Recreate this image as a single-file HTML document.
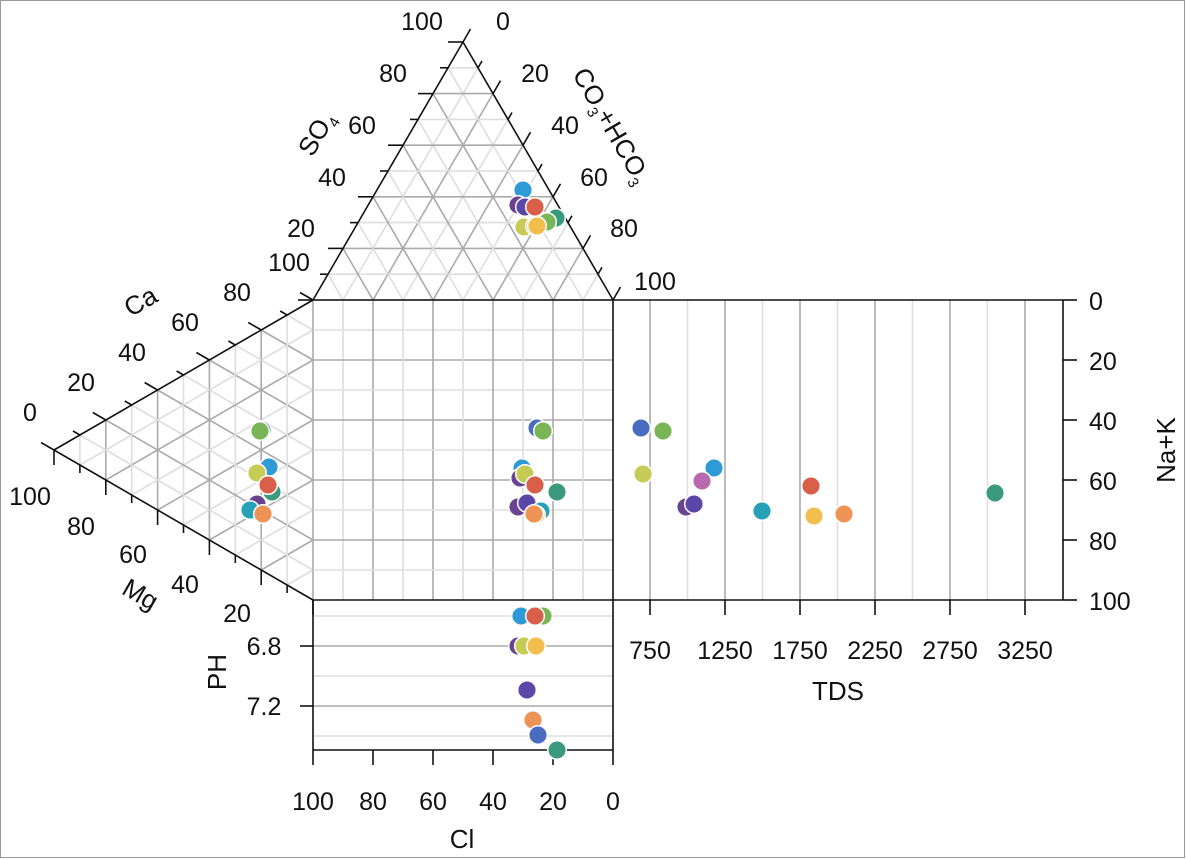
<!DOCTYPE html>
<html><head><meta charset="utf-8"><style>
html,body{margin:0;padding:0;background:#fff}
svg{display:block}
text{font-family:"Liberation Sans",sans-serif;font-size:25px;fill:#111}
.t{font-size:26px}
</style></head><body>
<svg id="s" width="1186" height="859" viewBox="0 0 1186 859" xmlns="http://www.w3.org/2000/svg">
<rect x="0.5" y="0.5" width="1184" height="857" fill="#fff" stroke="#999"/>
<g id="grid"></g>
<g id="frame" stroke="#111" stroke-width="1.6" fill="none"></g>
<g id="pts" stroke="#fff" stroke-width="1.5"></g>
<!-- SO4 labels -->
<text x="422" y="30" text-anchor="middle">100</text>
<text x="393" y="82" text-anchor="middle">80</text>
<text x="362" y="134" text-anchor="middle">60</text>
<text x="332" y="186" text-anchor="middle">40</text>
<text x="301" y="237" text-anchor="middle">20</text>
<text x="289" y="271" text-anchor="middle">100</text>
<!-- CO3 labels -->
<text x="503" y="30" text-anchor="middle">0</text>
<text x="535" y="82" text-anchor="middle">20</text>
<text x="565" y="134" text-anchor="middle">40</text>
<text x="594" y="186" text-anchor="middle">60</text>
<text x="624" y="237" text-anchor="middle">80</text>
<text x="655" y="290" text-anchor="middle">100</text>
<!-- Ca labels -->
<text x="237" y="301" text-anchor="middle">80</text>
<text x="185" y="331" text-anchor="middle">60</text>
<text x="132" y="361" text-anchor="middle">40</text>
<text x="81" y="391" text-anchor="middle">20</text>
<text x="30" y="421" text-anchor="middle">0</text>
<!-- Mg labels -->
<text x="30" y="505" text-anchor="middle">100</text>
<text x="81" y="535" text-anchor="middle">80</text>
<text x="133" y="563" text-anchor="middle">60</text>
<text x="185" y="593" text-anchor="middle">40</text>
<text x="237" y="622" text-anchor="middle">20</text>
<!-- titles -->
<text class="t" transform="translate(324,138) rotate(-60)" text-anchor="middle">SO<tspan font-size="15" dy="6">4</tspan></text>
<text class="t" transform="translate(604,130) rotate(60)" text-anchor="middle">CO<tspan font-size="15" dy="6">3</tspan><tspan dy="-6">+HCO</tspan><tspan font-size="15" dy="6">3</tspan></text>
<text class="t" transform="translate(145,309) rotate(-30)" text-anchor="middle">Ca</text>
<text class="t" transform="translate(136,602) rotate(30)" text-anchor="middle">Mg</text>
<text class="t" transform="translate(226,672) rotate(-90)" text-anchor="middle">PH</text>
<text class="t" transform="translate(1175,450) rotate(-90)" text-anchor="middle">Na+K</text>
<text class="t" x="838" y="700" text-anchor="middle">TDS</text>
<text class="t" x="462" y="848" text-anchor="middle">Cl</text>
<!-- pH labels -->
<text x="264" y="655" text-anchor="middle">6.8</text>
<text x="264" y="715" text-anchor="middle">7.2</text>
<!-- Cl labels -->
<text x="313" y="810" text-anchor="middle">100</text>
<text x="373" y="810" text-anchor="middle">80</text>
<text x="433" y="810" text-anchor="middle">60</text>
<text x="493" y="810" text-anchor="middle">40</text>
<text x="553" y="810" text-anchor="middle">20</text>
<text x="613" y="810" text-anchor="middle">0</text>
<!-- TDS labels -->
<text x="650" y="659" text-anchor="middle">750</text>
<text x="725" y="659" text-anchor="middle">1250</text>
<text x="800" y="659" text-anchor="middle">1750</text>
<text x="875" y="659" text-anchor="middle">2250</text>
<text x="950" y="659" text-anchor="middle">2750</text>
<text x="1025" y="659" text-anchor="middle">3250</text>
<!-- Na+K labels -->
<text x="1089" y="310">0</text>
<text x="1089" y="370">20</text>
<text x="1089" y="430">40</text>
<text x="1089" y="490">60</text>
<text x="1089" y="550">80</text>
<text x="1089" y="610">100</text>
</svg>
<script>
var NS="http://www.w3.org/2000/svg";
function L(g,x1,y1,x2,y2,c,w){var e=document.createElementNS(NS,"line");e.setAttribute("x1",x1);e.setAttribute("y1",y1);e.setAttribute("x2",x2);e.setAttribute("y2",y2);if(c)e.setAttribute("stroke",c);e.setAttribute("stroke-width",w||1.6);document.getElementById(g).appendChild(e);}
function P(a,b,f){return [a[0]+f*(b[0]-a[0]),a[1]+f*(b[1]-a[1])];}
var MA="#aaaaaa",MI="#dedede";
var A=[463,42],B=[313,300],C=[613,300];
for(var i=1;i<10;i++){var f=i/10,c=i%2?MI:MA;
 var p=P(B,A,f),q=P(C,A,f);L("grid",p[0],p[1],q[0],q[1],c);
 p=P(B,C,f);q=P(A,C,f);L("grid",p[0],p[1],q[0],q[1],c);
 p=P(C,B,f);q=P(A,B,f);L("grid",p[0],p[1],q[0],q[1],c);}
var Pp=[313,300],Q=[313,600],Lf=[54,450];
for(var i=1;i<10;i++){var f=i/10,c=i%2?MI:MA;
 var p=P(Lf,Pp,f),q=P(Lf,Q,f);L("grid",p[0],p[1],q[0],q[1],c);
 p=P(Q,Pp,f);q=P(Q,Lf,f);L("grid",p[0],p[1],q[0],q[1],c);
 p=P(Pp,Q,f);q=P(Pp,Lf,f);L("grid",p[0],p[1],q[0],q[1],c);}
for(var i=0;i<10;i++){var c=i%2?MI:MA;var v=313+i*30;L("grid",v,300,v,600,c);var h=300+i*30;L("grid",313,h,613,h,c);}
[[616,MI],[646,MA],[676,MI],[706,MA],[736,MI]].forEach(function(a){L("grid",313,a[0],613,a[0],a[1]);});
for(var k=0;k<11;k++){var x=650+37.5*k;L("grid",x,300,x,600,k%2?MI:MA);}
L("frame",A[0],A[1],B[0],B[1]);L("frame",A[0],A[1],C[0],C[1]);L("frame",B[0],B[1],C[0],C[1]);
L("frame",Lf[0],Lf[1],Pp[0],Pp[1]);L("frame",Lf[0],Lf[1],Q[0],Q[1]);
L("frame",313,600,1063,600);L("frame",613,300,1063,300);L("frame",613,300,613,750);L("frame",1063,300,1063,600);
L("frame",313,600,313,750);L("frame",313,750,613,750);
for(var i=0;i<=10;i++){var f=i/10,len=i%2?8:15;
 var p=P(B,A,f);L("frame",p[0],p[1],p[0]-len,p[1]);
 p=P(C,A,f);L("frame",p[0],p[1],p[0]+0.5*len,p[1]-0.866*len);
 p=P(Lf,Pp,f);L("frame",p[0],p[1],p[0]-0.866*len,p[1]-0.5*len);
 p=P(Lf,Q,f);L("frame",p[0],p[1],p[0],p[1]+len);}
for(var i=0;i<=5;i++){L("frame",1063,300+60*i,1077,300+60*i);L("frame",313+60*i,750,313+60*i,765);}
for(var k=0;k<6;k++){var x=650+75*k;L("frame",x,600,x,615);}
L("frame",300,646,313,646);L("frame",300,706,313,706);
var col={bl:"#4a6cc0",gr:"#79b557",yg:"#c5cb55",cy:"#2e9ad6",pk:"#b86aae",pu:"#6a4390",in:"#5a47a8",te:"#27a0b8",re:"#d95f4b",ye:"#f2bf4e",or:"#ee9356",tg:"#3b9a7e"};
var pts=[
["bl",641,428],["gr",663,431],["yg",643,474],["cy",714,468],["pk",702,481],["pu",686,507],["in",694,504],["te",762,511],["re",811,486],["ye",814,516],["or",844,514],["tg",995,493],
["bl",537,428],["gr",543,431],["cy",522,468],["pu",520,478],["yg",525,474],["re",535,485],["tg",557,492],["pu",518,507],["in",527,503],["te",541,511],["ye",536,515],["or",534,514],
["cy",523,190],["pu",518,205],["in",525,207],["re",535,207],["tg",556,218],["te",546,222],["gr",547,222],["yg",524,227],["or",535,226],["ye",537,226],
["bl",262,430],["gr",260,431],["cy",269,467],["yg",257,473],["tg",272,492],["re",268,485],["pu",257,504],["te",250,510],["or",263,514],
["cy",521,616],["gr",543,616],["re",535,616],["pu",518,646],["yg",524,646],["ye",536,646],["in",527,690],["or",533,720],["bl",538,735],["tg",557,750]];
pts.forEach(function(a){var e=document.createElementNS(NS,"circle");e.setAttribute("cx",a[1]);e.setAttribute("cy",a[2]);e.setAttribute("r",9.3);e.setAttribute("fill",col[a[0]]);document.getElementById("pts").appendChild(e);});
</script>
</body></html>
